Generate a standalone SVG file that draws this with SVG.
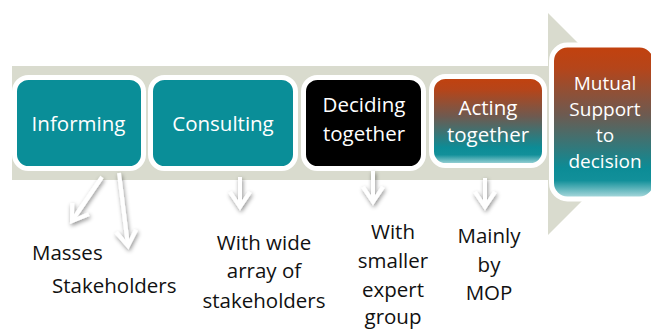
<svg xmlns="http://www.w3.org/2000/svg" width="651" height="329" viewBox="0 0 651 329">
  <defs>
    <linearGradient id="warmToTeal" x1="0" y1="0" x2="0" y2="1">
      <stop offset="0" stop-color="#C3410D"/>
      <stop offset="0.15" stop-color="#B5451A"/>
      <stop offset="0.45" stop-color="#6E5A50"/>
      <stop offset="0.8" stop-color="#0C8C96"/>
      <stop offset="0.88" stop-color="#12909A"/>
      <stop offset="1" stop-color="#B9E0E3"/>
    </linearGradient>
    <filter id="softShadow" x="-50%" y="-50%" width="200%" height="200%">
      <feDropShadow dx="1" dy="2" stdDeviation="2" flood-color="#000" flood-opacity="0.45"/>
    </filter>
    <marker id="chevron" markerUnits="userSpaceOnUse" markerWidth="30" markerHeight="30" viewBox="-20 -15 30 30" refX="0" refY="0" orient="auto">
      <path d="M-15,-10 L0,0 L-15,10" fill="none" stroke="#FFFFFF" stroke-width="4" stroke-linejoin="miter"/>
    </marker>
  </defs>
  <style>
    .box { stroke: #FFFFFF; stroke-width: 5; }
    .teal { fill: #0A8E98; }
    .dark { fill: #000000; }
    .warm { fill: url(#warmToTeal); }
    .label { font-family: "Open Sans", "Noto Sans", sans-serif; font-size: 20.5px; fill: #FFFFFF; text-anchor: middle; }
    .tight { font-size: 19px; }
    .note { font-family: "Open Sans", "Noto Sans", sans-serif; font-size: 20.5px; fill: #111111; text-anchor: middle; }
    .left { text-anchor: start; }
    .link { fill: none; stroke: #FFFFFF; stroke-width: 4; marker-end: url(#chevron); }
  </style>

  <!-- broad process arrow behind the stages -->
  <polygon id="process-band" points="12,66 548,66 548,13 659,124 548,235 548,180 12,180" fill="#D9DBCE"/>

  <g id="informing">
    <rect class="box teal" x="14.5" y="77.5" width="129" height="91" rx="14"/>
    <text class="label" x="78.5" y="131">Informing</text>
  </g>

  <g id="consulting">
    <rect class="box teal" x="150.5" y="77.5" width="145" height="91" rx="14"/>
    <text class="label" x="223" y="131">Consulting</text>
  </g>

  <g id="deciding">
    <rect class="box dark" x="303.5" y="77.5" width="120" height="91" rx="14"/>
    <text class="label" x="364" y="112">Deciding</text>
    <text class="label" x="364" y="141">together</text>
  </g>

  <g id="acting">
    <rect class="box warm" x="431.5" y="76.5" width="113" height="89" rx="14"/>
    <text class="label" x="488" y="115">Acting</text>
    <text class="label" x="488" y="142">together</text>
  </g>

  <g id="mutual-support">
    <rect class="box warm" x="551.5" y="45" width="104" height="154" rx="16"/>
    <text class="label tight" x="605" y="90">Mutual</text>
    <text class="label tight" x="605" y="116">Support</text>
    <text class="label tight" x="605" y="142">to</text>
    <text class="label tight" x="605" y="168">decision</text>
  </g>

  <g id="connectors" filter="url(#softShadow)">
    <line class="link" x1="102" y1="177" x2="72" y2="221"/>
    <line class="link" x1="119" y1="173" x2="128" y2="246"/>
    <line class="link" x1="240" y1="177" x2="240" y2="207"/>
    <line class="link" x1="373" y1="171" x2="373" y2="202"/>
    <line class="link" x1="485" y1="178" x2="485" y2="207"/>
  </g>

  <g id="notes">
    <text class="note left" x="32" y="260">Masses</text>
    <text class="note left" x="52" y="293">Stakeholders</text>
    <text class="note" x="264" y="250">With wide</text>
    <text class="note" x="264" y="278">array of</text>
    <text class="note" x="264" y="308">stakeholders</text>
    <text class="note" x="393" y="239">With</text>
    <text class="note" x="393" y="268">smaller</text>
    <text class="note" x="393" y="297">expert</text>
    <text class="note" x="393" y="324">group</text>
    <text class="note" x="489" y="243">Mainly</text>
    <text class="note" x="489" y="272">by</text>
    <text class="note" x="489" y="300">MOP</text>
  </g>
</svg>
